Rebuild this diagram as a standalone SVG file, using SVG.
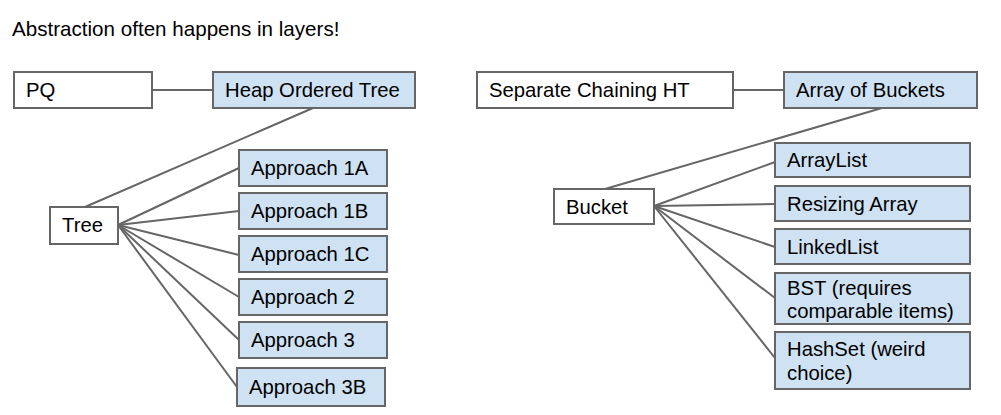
<svg xmlns="http://www.w3.org/2000/svg" width="1001" height="415" viewBox="0 0 1001 415">
<style>
  text { font-family: "Liberation Sans", Arial, sans-serif; font-size: 20.3px; fill: #000; }
  .t { font-size: 20.6px; }
  .w { fill: #ffffff; stroke: #666666; stroke-width: 2; }
  .b { fill: #cfe2f3; stroke: #666666; stroke-width: 2; }
  .c line { stroke: #666666; stroke-width: 2; }
</style>
<rect width="1001" height="415" fill="#ffffff"/>
<text class="t" x="12" y="36">Abstraction often happens in layers!</text>
<g class="c" id="connectors">
  <line x1="152" y1="90" x2="213" y2="90"/>
  <line x1="313" y1="108" x2="85" y2="207"/>
  <line x1="118" y1="225" x2="239" y2="168"/>
  <line x1="118" y1="225" x2="239" y2="211"/>
  <line x1="118" y1="225" x2="239" y2="255"/>
  <line x1="118" y1="225" x2="239" y2="297"/>
  <line x1="118" y1="225" x2="239" y2="340"/>
  <line x1="118" y1="225" x2="237" y2="387"/>
  <line x1="733" y1="90" x2="784" y2="90"/>
  <line x1="882" y1="108" x2="605" y2="189"/>
  <line x1="654" y1="206" x2="775" y2="162"/>
  <line x1="654" y1="206" x2="775" y2="204"/>
  <line x1="654" y1="206" x2="775" y2="247"/>
  <line x1="654" y1="206" x2="775" y2="298"/>
  <line x1="654" y1="206" x2="775" y2="358"/>
</g>
<g id="pq"><rect class="w" x="14" y="72" width="138" height="36"/><text x="26" y="97">PQ</text></g>
<g id="heap"><rect class="b" x="213" y="72" width="202" height="36"/><text x="225" y="97">Heap Ordered Tree</text></g>
<g id="tree"><rect class="w" x="50" y="207" width="68" height="37"/><text x="62" y="232">Tree</text></g>
<g id="a1a"><rect class="b" x="239" y="150" width="148" height="36"/><text x="251" y="175">Approach 1A</text></g>
<g id="a1b"><rect class="b" x="239" y="193" width="148" height="36"/><text x="251" y="218">Approach 1B</text></g>
<g id="a1c"><rect class="b" x="239" y="236" width="148" height="36"/><text x="251" y="261">Approach 1C</text></g>
<g id="a2"><rect class="b" x="239" y="279" width="148" height="36"/><text x="251" y="304">Approach 2</text></g>
<g id="a3"><rect class="b" x="239" y="322" width="148" height="36"/><text x="251" y="347">Approach 3</text></g>
<g id="a3b"><rect class="b" x="237" y="368" width="148" height="38"/><text x="249" y="394">Approach 3B</text></g>
<g id="scht"><rect class="w" x="477" y="72" width="256" height="36"/><text x="489" y="97">Separate Chaining HT</text></g>
<g id="aob"><rect class="b" x="784" y="72" width="193" height="36"/><text x="796" y="97">Array of Buckets</text></g>
<g id="bucket"><rect class="w" x="554" y="189" width="100" height="35"/><text x="566" y="214">Bucket</text></g>
<g id="arraylist"><rect class="b" x="775" y="143" width="195" height="34"/><text x="787" y="167">ArrayList</text></g>
<g id="resizing"><rect class="b" x="775" y="186" width="195" height="35"/><text x="787" y="211">Resizing Array</text></g>
<g id="linkedlist"><rect class="b" x="775" y="229" width="195" height="35"/><text x="787" y="254">LinkedList</text></g>
<g id="bst"><rect class="b" x="775" y="273" width="195" height="51"/><text x="787" y="295">BST (requires</text><text x="787" y="318">comparable items)</text></g>
<g id="hashset"><rect class="b" x="775" y="332" width="195" height="57"/><text x="787" y="356">HashSet (weird</text><text x="787" y="380">choice)</text></g>
</svg>
